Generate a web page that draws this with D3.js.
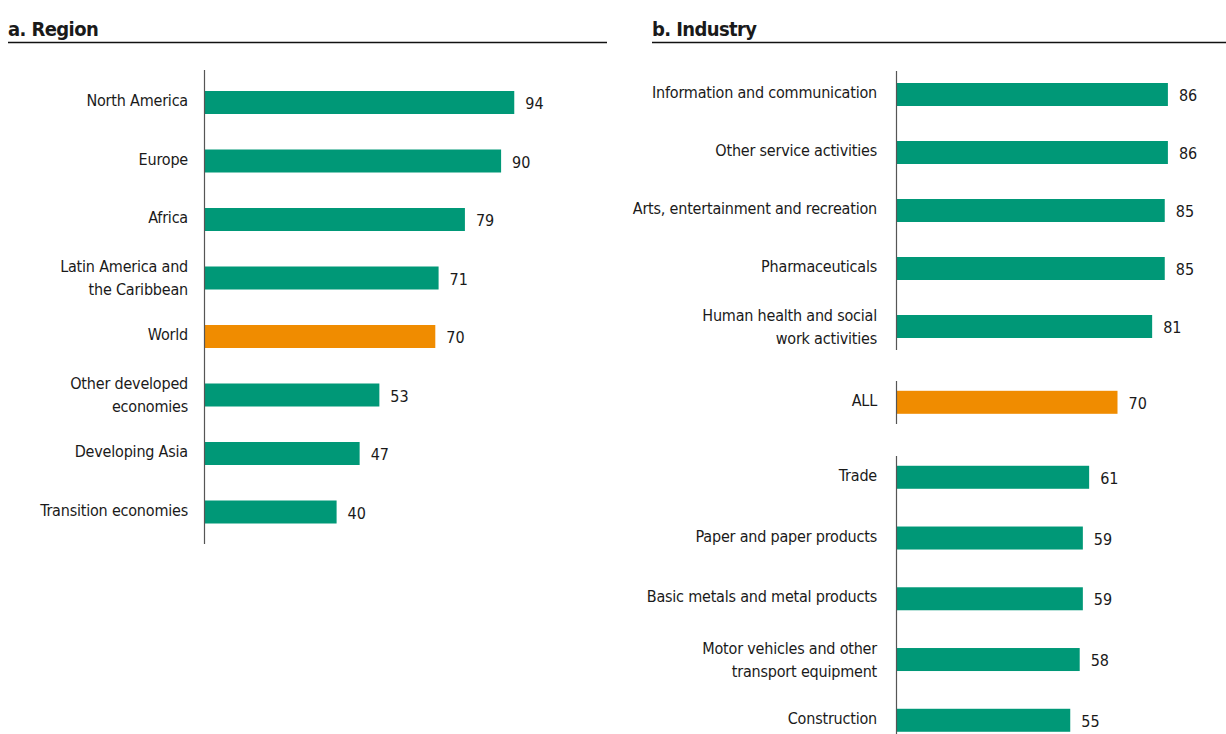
<!DOCTYPE html>
<html>
<head>
<meta charset="utf-8">
<script src="https://cdn.jsdelivr.net/npm/d3@7"></script>
<style>
  html, body { margin: 0; padding: 0; background: #fff; }
  svg { display: block; }
  text { font-family: "Liberation Sans Narrow", "Arial Narrow", "DejaVu Sans Condensed", sans-serif; fill: #1a1a1a; }
</style>
</head>
<body>
<svg id="chart" width="1226" height="734"></svg>
<script>
// ---- Data ----
const regionCategories = ["North America", "Europe", "Africa", "Latin America and\nthe Caribbean", "World", "Other developed\neconomies", "Developing Asia", "Transition economies"];
const regionValues = [94, 90, 79, 71, 70, 53, 47, 40];

const industryTopCategories = ["Information and communication", "Other service activities", "Arts, entertainment and recreation", "Pharmaceuticals", "Human health and social\nwork activities"];
const industryTopValues = [86, 86, 85, 85, 81];

const industryAllCategories = ["ALL"];
const industryAllValues = [70];

const industryBottomCategories = ["Trade", "Paper and paper products", "Basic metals and metal products", "Motor vehicles and other\ntransport equipment", "Construction"];
const industryBottomValues = [61, 59, 59, 58, 55];

const highlightCategories = ["World", "ALL"];
const panelTitles = ["a. Region", "b. Industry"];

// ---- Style ----
const GREEN = "#009877";
const ORANGE = "#f08c00";
const FONT_SIZE = 16;
const LETTER_SP = "-0.2px";

const svg = d3.select("#chart");

function title(x0, x1, text) {
  svg.append("text").attr("x", x0).attr("y", 36)
    .attr("font-size", 20).attr("font-weight", "bold")
    .attr("letter-spacing", "-0.6px").text(text);
  svg.append("line").attr("x1", x0).attr("x2", x1).attr("y1", 42.5).attr("y2", 42.5)
    .attr("stroke", "#111").attr("stroke-width", 1.3);
}

function group(cats, vals, yRange, x, axisY0, axisY1, labelX) {
  const y = d3.scaleBand().domain(cats).range(yRange).paddingInner(0.6).paddingOuter(0.3);
  const g = svg.append("g");
  const x0 = x.range()[0];
  g.selectAll("rect").data(cats).join("rect")
    .attr("x", x0)
    .attr("y", (d) => y(d) + y.bandwidth() / 2 - 11.5)
    .attr("height", 23)
    .attr("width", (d, i) => x(vals[i]) - x0)
    .attr("fill", (d) => highlightCategories.includes(d) ? ORANGE : GREEN);
  g.append("line").attr("x1", x0 - 0.5).attr("x2", x0 - 0.5)
    .attr("y1", axisY0).attr("y2", axisY1).attr("stroke", "#555").attr("stroke-width", 1.2);
  // category labels
  cats.forEach((d) => {
    const lines = d.split("\n");
    const cy = y(d) + y.bandwidth() / 2 - (lines.length === 1 ? 2 : 0);
    const lh = 23;
    const t = g.append("text").attr("text-anchor", "end").attr("font-size", FONT_SIZE)
      .attr("letter-spacing", LETTER_SP);
    lines.forEach((ln, k) => {
      t.append("tspan").attr("x", labelX)
        .attr("y", cy + (k - (lines.length - 1) / 2) * lh)
        .attr("dy", "0.35em").text(ln);
    });
  });
  // value labels
  g.selectAll("text.val").data(cats).join("text").attr("class", "val")
    .attr("x", (d, i) => x(vals[i]) + 11)
    .attr("y", (d) => y(d) + y.bandwidth() / 2 + 1)
    .attr("dy", "0.35em")
    .attr("font-size", FONT_SIZE)
    .text((d, i) => vals[i]);
}

// Panel a
title(8, 607, panelTitles[0]);
const xLeft = d3.scaleLinear().domain([0, 100]).range([205, 205 + 329]);
group(regionCategories, regionValues, [73.25, 541.25], xLeft, 70, 544, 188);

// Panel b
title(652, 1226, panelTitles[1]);
const xRight = d3.scaleLinear().domain([0, 100]).range([897, 897 + 315]);
group(industryTopCategories, industryTopValues, [65.5, 355.5], xRight, 71, 350, 877);
group(industryAllCategories, industryAllValues, [373.3, 431.3], xRight, 381, 424, 877);
group(industryBottomCategories, industryBottomValues, [446.9, 750.65], xRight, 456, 734, 877);
</script>
</body>
</html>
